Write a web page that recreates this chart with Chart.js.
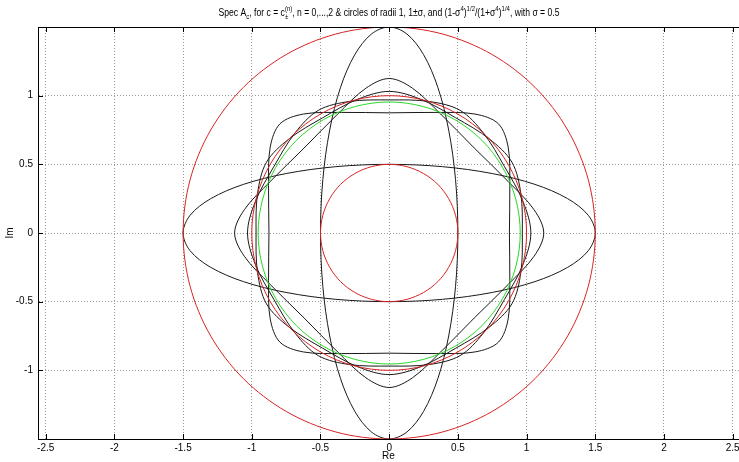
<!DOCTYPE html>
<html>
<head>
<meta charset="utf-8">
<script src="https://cdn.jsdelivr.net/npm/chart.js@4.4.1/dist/chart.umd.min.js"></script>
<style>
  html, body { margin: 0; padding: 0; background: #fff; }
</style>
</head>
<body>
<canvas id="specChart" width="739" height="462"></canvas>
<script>
// tick positions
const xTicks = [-2.5, -2, -1.5, -1, -0.5, 0, 0.5, 1, 1.5, 2, 2.5];
const yTicks = [-1, -0.5, 0, 0.5, 1];

// circles of radii 1-sigma, 1, 1+sigma (red) and the green one
// (every curve is a closed loop, the last point joins back to the first)
const circleSmall = [[0.5,0],[0.483,0.129],[0.433,0.25],[0.354,0.354],[0.25,0.433],[0.129,0.483],[0,0.5],[-0.129,0.483],[-0.25,0.433],[-0.354,0.354],[-0.433,0.25],[-0.483,0.129],[-0.5,0],[-0.483,-0.129],[-0.433,-0.25],[-0.354,-0.354],[-0.25,-0.433],[-0.129,-0.483],[0,-0.5],[0.129,-0.483],[0.25,-0.433],[0.354,-0.354],[0.433,-0.25],[0.483,-0.129]];
const circleUnit = [[1,0],[0.966,0.259],[0.866,0.5],[0.707,0.707],[0.5,0.866],[0.259,0.966],[0,1],[-0.259,0.966],[-0.5,0.866],[-0.707,0.707],[-0.866,0.5],[-0.966,0.259],[-1,0],[-0.966,-0.259],[-0.866,-0.5],[-0.707,-0.707],[-0.5,-0.866],[-0.259,-0.966],[0,-1],[0.259,-0.966],[0.5,-0.866],[0.707,-0.707],[0.866,-0.5],[0.966,-0.259]];
const circleBig = [[1.5,0],[1.449,0.388],[1.299,0.75],[1.061,1.061],[0.75,1.299],[0.388,1.449],[0,1.5],[-0.388,1.449],[-0.75,1.299],[-1.061,1.061],[-1.299,0.75],[-1.449,0.388],[-1.5,0],[-1.449,-0.388],[-1.299,-0.75],[-1.061,-1.061],[-0.75,-1.299],[-0.388,-1.449],[0,-1.5],[0.388,-1.449],[0.75,-1.299],[1.061,-1.061],[1.299,-0.75],[1.449,-0.388]];
const circleGreen = [[0.954,0],[0.921,0.247],[0.826,0.477],[0.675,0.675],[0.477,0.826],[0.247,0.921],[0,0.954],[-0.247,0.921],[-0.477,0.826],[-0.675,0.675],[-0.826,0.477],[-0.921,0.247],[-0.954,0],[-0.921,-0.247],[-0.826,-0.477],[-0.675,-0.675],[-0.477,-0.826],[-0.247,-0.921],[0,-0.954],[0.247,-0.921],[0.477,-0.826],[0.675,-0.675],[0.826,-0.477],[0.921,-0.247]];

// spectra, n = 0: the two ellipses
const specN0Plus = [[1.5,0],[1.449,0.129],[1.299,0.25],[1.061,0.354],[0.75,0.433],[0.388,0.483],[0,0.5],[-0.388,0.483],[-0.75,0.433],[-1.061,0.354],[-1.299,0.25],[-1.449,0.129],[-1.5,0],[-1.449,-0.129],[-1.299,-0.25],[-1.061,-0.354],[-0.75,-0.433],[-0.388,-0.483],[0,-0.5],[0.388,-0.483],[0.75,-0.433],[1.061,-0.354],[1.299,-0.25],[1.449,-0.129]];
const specN0Minus = [[0.5,0],[0.483,0.388],[0.433,0.75],[0.354,1.061],[0.25,1.299],[0.129,1.449],[0,1.5],[-0.129,1.449],[-0.25,1.299],[-0.354,1.061],[-0.433,0.75],[-0.483,0.388],[-0.5,0],[-0.483,-0.388],[-0.433,-0.75],[-0.354,-1.061],[-0.25,-1.299],[-0.129,-1.449],[0,-1.5],[0.129,-1.449],[0.25,-1.299],[0.354,-1.061],[0.433,-0.75],[0.483,-0.388]];
// n = 1: rounded diamond and rounded square
const specN1Plus = [[1.125,0],[1.054,0.17],[0.866,0.375],[0.619,0.619],[0.375,0.866],[0.17,1.054],[0,1.125],[-0.17,1.054],[-0.375,0.866],[-0.619,0.619],[-0.866,0.375],[-1.054,0.17],[-1.125,0],[-1.054,-0.17],[-0.866,-0.375],[-0.619,-0.619],[-0.375,-0.866],[-0.17,-1.054],[0,-1.125],[0.17,-1.054],[0.375,-0.866],[0.619,-0.619],[0.866,-0.375],[1.054,-0.17]];
const specN1Minus = [[0.875,0],[0.878,0.347],[0.866,0.625],[0.795,0.795],[0.625,0.866],[0.347,0.878],[0,0.875],[-0.347,0.878],[-0.625,0.866],[-0.795,0.795],[-0.866,0.625],[-0.878,0.347],[-0.875,0],[-0.878,-0.347],[-0.866,-0.625],[-0.795,-0.795],[-0.625,-0.866],[-0.347,-0.878],[0,-0.875],[0.347,-0.878],[0.625,-0.866],[0.795,-0.795],[0.866,-0.625],[0.878,-0.347]];
// n = 2: almost circles
const specN2Plus = [[1.031,0],[0.974,0.229],[0.839,0.484],[0.685,0.729],[0.516,0.893],[0.289,0.958],[0,0.969],[-0.289,0.958],[-0.516,0.893],[-0.685,0.729],[-0.839,0.484],[-0.974,0.229],[-1.031,0],[-0.974,-0.229],[-0.839,-0.484],[-0.685,-0.729],[-0.516,-0.893],[-0.289,-0.958],[0,-0.969],[0.289,-0.958],[0.516,-0.893],[0.685,-0.729],[0.839,-0.484],[0.974,-0.229]];
const specN2Minus = [[0.969,0],[0.958,0.289],[0.893,0.516],[0.729,0.685],[0.484,0.839],[0.229,0.974],[0,1.031],[-0.229,0.974],[-0.484,0.839],[-0.729,0.685],[-0.893,0.516],[-0.958,0.289],[-0.969,0],[-0.958,-0.289],[-0.893,-0.516],[-0.729,-0.685],[-0.484,-0.839],[-0.229,-0.974],[0,-1.031],[0.229,-0.974],[0.484,-0.839],[0.729,-0.685],[0.893,-0.516],[0.958,-0.289]];

const FONT = '"Liberation Sans Narrow", "Liberation Sans", Arial, sans-serif';
const RED = 'rgb(215,35,35)';
const GREEN = 'rgb(40,215,40)';
const BLACK = 'rgb(25,25,25)';

function curve(pts, color) {
  return {
    data: pts.map(([x, y]) => ({ x, y })),
    borderColor: color,
    borderWidth: 1,
    showLine: true,
    pointRadius: 0,
    tension: 0.333,
    fill: false
  };
}

// title with sub/superscripts
const titleParts = [
  { t: 'Spec A' }, { sub: 'c' }, { t: ', for c = c' }, { sub: '\u00b1', sup: '(n)' },
  { t: ', n = 0,...,2 & circles of radii 1, 1\u00b1\u03c3, and (1-\u03c3' }, { sup: '4' },
  { t: ')' }, { sup: '1/2' }, { t: '/(1+\u03c3' }, { sup: '4' }, { t: ')' }, { sup: '1/4' },
  { t: ', with \u03c3 = 0.5' }
];

// make every line a closed loop so the spline joins smoothly
const closedCurves = {
  id: 'closedCurves',
  afterDatasetUpdate(chart, { meta }) {
    const line = meta.dataset;
    if (!line) return;
    line._loop = true;
    line._fullLoop = true;
    line._pointsUpdated = false;
    delete line._segments;
    line._path = undefined;
  }
};

// matlab style box: top edge and inward ticks (right edge falls just outside the picture)
const matlabFrame = {
  id: 'matlabFrame',
  afterDraw(chart) {
    const { ctx, chartArea: a, scales: { x, y } } = chart;
    ctx.save();
    ctx.strokeStyle = '#000';
    ctx.lineWidth = 1;
    ctx.beginPath();
    ctx.moveTo(a.left, a.top + 0.5);
    ctx.lineTo(a.right, a.top + 0.5);
    xTicks.forEach(v => {
      const px = Math.round(x.getPixelForValue(v)) + 0.5;
      ctx.moveTo(px, a.bottom); ctx.lineTo(px, a.bottom - 5);
      ctx.moveTo(px, a.top); ctx.lineTo(px, a.top + 5);
    });
    yTicks.forEach(v => {
      const py = Math.round(y.getPixelForValue(v)) + 0.5;
      ctx.moveTo(a.left, py); ctx.lineTo(a.left + 5, py);
    });
    ctx.stroke();

    // title
    const big = '10px ' + FONT, small = '7px ' + FONT;
    let total = 0;
    const widths = titleParts.map(p => {
      let w;
      if (p.t) { ctx.font = big; w = ctx.measureText(p.t).width; }
      else {
        ctx.font = small;
        w = Math.max(p.sub ? ctx.measureText(p.sub).width : 0, p.sup ? ctx.measureText(p.sup).width : 0);
      }
      total += w;
      return w;
    });
    const target = 341;
    const sx = target / total;
    ctx.fillStyle = '#000';
    ctx.textBaseline = 'alphabetic';
    ctx.textAlign = 'left';
    ctx.translate(389 - target / 2, 0);
    ctx.scale(sx, 1);
    let cx = 0;
    const base = 16;
    titleParts.forEach((p, i) => {
      if (p.t) { ctx.font = big; ctx.fillText(p.t, cx, base); }
      else {
        ctx.font = small;
        if (p.sub) ctx.fillText(p.sub, cx, base + 3);
        if (p.sup) ctx.fillText(p.sup, cx, base - 5);
      }
      cx += widths[i];
    });
    ctx.restore();
  }
};

new Chart(document.getElementById('specChart'), {
  type: 'scatter',
  data: {
    datasets: [
      curve(circleSmall, RED),
      curve(circleUnit, RED),
      curve(circleBig, RED),
      curve(circleGreen, GREEN),
      curve(specN0Plus, BLACK),
      curve(specN0Minus, BLACK),
      curve(specN1Plus, BLACK),
      curve(specN1Minus, BLACK),
      curve(specN2Plus, BLACK),
      curve(specN2Minus, BLACK)
    ]
  },
  options: {
    responsive: false,
    animation: false,
    layout: { padding: { top: 27, left: 0, right: 0, bottom: 0 } },
    plugins: { legend: { display: false }, tooltip: { enabled: false }, title: { display: false } },
    scales: {
      x: {
        type: 'linear',
        min: -2.556,
        max: 2.546,
        afterBuildTicks: s => { s.ticks = xTicks.map(value => ({ value })); },
        afterFit: s => { s.height = 23; s.paddingLeft = 0; s.paddingRight = 0; },
        grid: { color: '#9a9a9a', drawTicks: false },
        border: { color: '#000', dash: [1, 2] },
        ticks: { padding: 3, color: '#000', font: { family: FONT, size: 10 }, maxRotation: 0, autoSkip: false, callback: v => String(v) },
        title: { display: true, text: 'Re', color: '#000', font: { family: FONT, size: 10 }, padding: 0 }
      },
      y: {
        type: 'linear',
        min: -1.5,
        max: 1.5,
        afterBuildTicks: s => { s.ticks = yTicks.map(value => ({ value })); },
        afterFit: s => { s.width = 38; s.paddingTop = 0; s.paddingBottom = 0; },
        grid: { color: '#9a9a9a', drawTicks: false },
        border: { color: '#000', dash: [1, 2] },
        ticks: { padding: 5, color: '#000', font: { family: FONT, size: 10 }, autoSkip: false, callback: v => String(v) },
        title: { display: true, text: 'Im', color: '#000', font: { family: FONT, size: 10 }, padding: 4 }
      }
    }
  },
  plugins: [closedCurves, matlabFrame]
});
</script>
</body>
</html>
